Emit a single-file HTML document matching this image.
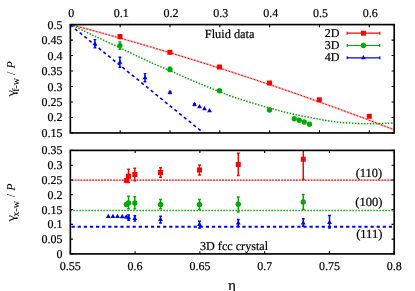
<!DOCTYPE html><html><head><meta charset="utf-8"><style>html,body{margin:0;padding:0;background:#fff}svg{display:block}text{stroke:#000;stroke-width:0.2px}g.yl text{stroke-width:0.05px}#w{will-change:transform;width:415px;height:291px;overflow:hidden}</style></head><body><div id="w"><svg width="415" height="291" viewBox="0 0 415 291" font-family="Liberation Serif, serif" font-size="12" fill="#000" text-rendering="geometricPrecision" stroke="none">
<rect width="415" height="291" fill="#fff"/>
<defs><clipPath id="c1"><rect x="70.35" y="24.6" width="323.85" height="108.35"/></clipPath><clipPath id="c2"><rect x="70.35" y="150.4" width="323.85" height="103.5"/></clipPath></defs>
<g clip-path="url(#c1)">
<polyline fill="none" stroke="#ff0000" stroke-opacity="0.3" stroke-width="1.9" points="70.35,24.50 73.59,25.36 76.83,26.22 80.07,27.09 83.30,27.96 86.54,28.83 89.78,29.71 93.02,30.59 96.26,31.48 99.50,32.37 102.73,33.27 105.97,34.16 109.21,35.07 112.45,35.97 115.69,36.88 118.93,37.80 122.17,38.71 125.40,39.63 128.64,40.56 131.88,41.49 135.12,42.42 138.36,43.36 141.60,44.30 144.84,45.25 148.07,46.20 151.31,47.15 154.55,48.11 157.79,49.07 161.03,50.03 164.27,51.00 167.50,51.97 170.74,52.95 173.98,53.93 177.22,54.91 180.46,55.90 183.70,56.89 186.94,57.89 190.17,58.89 193.41,59.89 196.65,60.90 199.89,61.91 203.13,62.93 206.37,63.95 209.61,64.97 212.84,66.00 216.08,67.03 219.32,68.06 222.56,69.10 225.80,70.15 229.04,71.19 232.28,72.24 235.51,73.30 238.75,74.36 241.99,75.42 245.23,76.49 248.47,77.56 251.71,78.63 254.94,79.71 258.18,80.79 261.42,81.88 264.66,82.97 267.90,84.06 271.14,85.16 274.38,86.26 277.61,87.37 280.85,88.48 284.09,89.59 287.33,90.71 290.57,91.83 293.81,92.95 297.04,94.08 300.28,95.21 303.52,96.35 306.76,97.49 310.00,98.64 313.24,99.79 316.48,100.94 319.71,102.09 322.95,103.25 326.19,104.42 329.43,105.59 332.67,106.76 335.91,107.94 339.15,109.12 342.38,110.30 345.62,111.49 348.86,112.68 352.10,113.87 355.34,115.07 358.58,116.28 361.82,117.48 365.05,118.70 368.29,119.91 371.53,121.13 374.77,122.35 378.01,123.58 381.25,124.81 384.48,126.05 387.72,127.28 390.96,128.53 394.20,129.77"/>
<polyline fill="none" stroke="#ff0000" stroke-width="1.0" stroke-dasharray="1.6 1.7" points="70.35,24.50 73.59,25.36 76.83,26.22 80.07,27.09 83.30,27.96 86.54,28.83 89.78,29.71 93.02,30.59 96.26,31.48 99.50,32.37 102.73,33.27 105.97,34.16 109.21,35.07 112.45,35.97 115.69,36.88 118.93,37.80 122.17,38.71 125.40,39.63 128.64,40.56 131.88,41.49 135.12,42.42 138.36,43.36 141.60,44.30 144.84,45.25 148.07,46.20 151.31,47.15 154.55,48.11 157.79,49.07 161.03,50.03 164.27,51.00 167.50,51.97 170.74,52.95 173.98,53.93 177.22,54.91 180.46,55.90 183.70,56.89 186.94,57.89 190.17,58.89 193.41,59.89 196.65,60.90 199.89,61.91 203.13,62.93 206.37,63.95 209.61,64.97 212.84,66.00 216.08,67.03 219.32,68.06 222.56,69.10 225.80,70.15 229.04,71.19 232.28,72.24 235.51,73.30 238.75,74.36 241.99,75.42 245.23,76.49 248.47,77.56 251.71,78.63 254.94,79.71 258.18,80.79 261.42,81.88 264.66,82.97 267.90,84.06 271.14,85.16 274.38,86.26 277.61,87.37 280.85,88.48 284.09,89.59 287.33,90.71 290.57,91.83 293.81,92.95 297.04,94.08 300.28,95.21 303.52,96.35 306.76,97.49 310.00,98.64 313.24,99.79 316.48,100.94 319.71,102.09 322.95,103.25 326.19,104.42 329.43,105.59 332.67,106.76 335.91,107.94 339.15,109.12 342.38,110.30 345.62,111.49 348.86,112.68 352.10,113.87 355.34,115.07 358.58,116.28 361.82,117.48 365.05,118.70 368.29,119.91 371.53,121.13 374.77,122.35 378.01,123.58 381.25,124.81 384.48,126.05 387.72,127.28 390.96,128.53 394.20,129.77"/>
<path d="M70.50 24.50 C74.58 26.45 86.75 32.30 95.00 36.20 C103.25 40.10 112.50 44.37 120.00 47.90 C127.50 51.43 134.17 54.65 140.00 57.40 C145.83 60.15 150.00 62.20 155.00 64.40 C160.00 66.60 165.33 68.58 170.00 70.60 C174.67 72.62 178.00 74.30 183.00 76.50 C188.00 78.70 193.92 81.28 200.00 83.80 C206.08 86.32 214.50 89.60 219.50 91.60 C224.50 93.60 225.96 94.35 230.00 95.80 C234.04 97.25 237.17 98.27 243.75 100.30 C250.33 102.33 261.12 105.67 269.50 108.00 C277.88 110.33 285.58 112.42 294.00 114.30 C302.42 116.18 312.33 117.97 320.00 119.30 C327.67 120.63 331.83 121.55 340.00 122.30 C348.17 123.05 359.97 123.72 369.00 123.80 C378.03 123.88 390.00 122.97 394.20 122.80" fill="none" stroke="#00a800" stroke-width="1.5" stroke-dasharray="1.5 1.5"/>
<polyline fill="none" stroke="#0000ff" stroke-width="1.6" stroke-dasharray="3.2 2.9" stroke-dashoffset="0.4" points="70.50,25.20 204.40,133.70"/>
</g>
<rect x="117.50" y="34.10" width="5" height="5" fill="#ff0000"/>
<rect x="167.40" y="49.80" width="5" height="5" fill="#ff0000"/>
<rect x="217.00" y="64.50" width="5" height="5" fill="#ff0000"/>
<rect x="267.10" y="80.50" width="5" height="5" fill="#ff0000"/>
<rect x="316.80" y="97.30" width="5" height="5" fill="#ff0000"/>
<rect x="366.80" y="113.80" width="5" height="5" fill="#ff0000"/>
<path d="M120.00 34.60 V38.60 M118.60 34.60 H121.40 M118.60 38.60 H121.40" stroke="#ff0000" stroke-width="1.45" fill="none"/>
<path d="M169.90 51.00 V53.60 M168.50 51.00 H171.30 M168.50 53.60 H171.30" stroke="#ff0000" stroke-width="1.45" fill="none"/>
<path d="M119.90 42.00 V49.20 M118.50 42.00 H121.30 M118.50 49.20 H121.30" stroke="#00a800" stroke-width="1.45" fill="none"/>
<circle cx="119.90" cy="45.60" r="2.65" fill="#00a800"/>
<path d="M169.90 67.20 V71.60 M168.50 67.20 H171.30 M168.50 71.60 H171.30" stroke="#00a800" stroke-width="1.45" fill="none"/>
<circle cx="169.90" cy="69.40" r="2.65" fill="#00a800"/>
<circle cx="219.50" cy="90.75" r="2.65" fill="#00a800"/>
<circle cx="269.50" cy="110.00" r="2.65" fill="#00a800"/>
<circle cx="294.25" cy="118.75" r="2.65" fill="#00a800"/>
<circle cx="299.25" cy="120.25" r="2.65" fill="#00a800"/>
<circle cx="304.25" cy="122.00" r="2.65" fill="#00a800"/>
<circle cx="309.50" cy="124.25" r="2.65" fill="#00a800"/>
<path d="M94.90 39.60 V47.80 M93.50 39.60 H96.30 M93.50 47.80 H96.30" stroke="#0000ff" stroke-width="1.45" fill="none"/>
<path d="M92.50 45.25 L97.30 45.25 L94.90 40.95 Z" fill="#0000ff"/>
<path d="M119.90 57.20 V67.20 M118.50 57.20 H121.30 M118.50 67.20 H121.30" stroke="#0000ff" stroke-width="1.45" fill="none"/>
<path d="M117.50 63.75 L122.30 63.75 L119.90 59.45 Z" fill="#0000ff"/>
<path d="M145.00 73.60 V81.80 M143.60 73.60 H146.40 M143.60 81.80 H146.40" stroke="#0000ff" stroke-width="1.45" fill="none"/>
<path d="M142.60 79.25 L147.40 79.25 L145.00 74.95 Z" fill="#0000ff"/>
<path d="M170.00 91.40 V93.60 M168.60 91.40 H171.40 M168.60 93.60 H171.40" stroke="#0000ff" stroke-width="1.45" fill="none"/>
<path d="M167.60 94.05 L172.40 94.05 L170.00 89.75 Z" fill="#0000ff"/>
<path d="M194.50 103.60 V105.40 M193.10 103.60 H195.90 M193.10 105.40 H195.90" stroke="#0000ff" stroke-width="1.45" fill="none"/>
<path d="M192.10 106.05 L196.90 106.05 L194.50 101.75 Z" fill="#0000ff"/>
<path d="M197.10 108.30 L201.90 108.30 L199.50 104.00 Z" fill="#0000ff"/>
<path d="M202.10 110.30 L206.90 110.30 L204.50 106.00 Z" fill="#0000ff"/>
<path d="M207.10 112.30 L211.90 112.30 L209.50 108.00 Z" fill="#0000ff"/>
<g clip-path="url(#c2)">
<path d="M70.35 180.08 H394.2" stroke="#ff0000" stroke-width="1.3" stroke-dasharray="2 0.95" stroke-dashoffset="-1.2" fill="none"/>
<path d="M70.35 210.6 H394.2" stroke="#00a800" stroke-width="1.5" stroke-dasharray="1.5 1.5" fill="none"/>
<path d="M71.6 226.75 H394.2" stroke="#0000ff" stroke-width="1.8" stroke-dasharray="3.2 2.9" fill="none"/>
<path d="M126.60 180.60 V180.60 M125.20 180.60 H128.00 M125.20 180.60 H128.00" stroke="#ff0000" stroke-width="1.45" fill="none"/>
<rect x="124.10" y="178.10" width="5" height="5" fill="#ff0000"/>
<path d="M128.50 169.25 V182.50 M127.10 169.25 H129.90 M127.10 182.50 H129.90" stroke="#ff0000" stroke-width="1.45" fill="none"/>
<rect x="126.00" y="173.75" width="5" height="5" fill="#ff0000"/>
<path d="M134.80 168.25 V180.75 M133.40 168.25 H136.20 M133.40 180.75 H136.20" stroke="#ff0000" stroke-width="1.45" fill="none"/>
<rect x="132.30" y="172.00" width="5" height="5" fill="#ff0000"/>
<path d="M160.50 167.80 V177.20 M159.10 167.80 H161.90 M159.10 177.20 H161.90" stroke="#ff0000" stroke-width="1.45" fill="none"/>
<rect x="158.00" y="170.00" width="5" height="5" fill="#ff0000"/>
<path d="M199.50 165.00 V175.00 M198.10 165.00 H200.90 M198.10 175.00 H200.90" stroke="#ff0000" stroke-width="1.45" fill="none"/>
<rect x="197.00" y="167.50" width="5" height="5" fill="#ff0000"/>
<path d="M238.25 153.25 V175.50 M236.85 153.25 H239.65 M236.85 175.50 H239.65" stroke="#ff0000" stroke-width="1.45" fill="none"/>
<rect x="235.75" y="162.00" width="5" height="5" fill="#ff0000"/>
<path d="M303.25 140.00 V179.50 M301.85 140.00 H304.65 M301.85 179.50 H304.65" stroke="#ff0000" stroke-width="1.45" fill="none"/>
<rect x="300.75" y="156.75" width="5" height="5" fill="#ff0000"/>
<path d="M126.40 204.50 V204.50 M125.00 204.50 H127.80 M125.00 204.50 H127.80" stroke="#00a800" stroke-width="1.45" fill="none"/>
<circle cx="126.40" cy="204.50" r="2.65" fill="#00a800"/>
<path d="M128.50 196.25 V208.75 M127.10 196.25 H129.90 M127.10 208.75 H129.90" stroke="#00a800" stroke-width="1.45" fill="none"/>
<circle cx="128.50" cy="203.00" r="2.65" fill="#00a800"/>
<path d="M134.80 196.75 V208.75 M133.40 196.75 H136.20 M133.40 208.75 H136.20" stroke="#00a800" stroke-width="1.45" fill="none"/>
<circle cx="134.80" cy="203.00" r="2.65" fill="#00a800"/>
<path d="M160.50 199.50 V208.75 M159.10 199.50 H161.90 M159.10 208.75 H161.90" stroke="#00a800" stroke-width="1.45" fill="none"/>
<circle cx="160.50" cy="204.50" r="2.65" fill="#00a800"/>
<path d="M199.50 199.50 V209.50 M198.10 199.50 H200.90 M198.10 209.50 H200.90" stroke="#00a800" stroke-width="1.45" fill="none"/>
<circle cx="199.50" cy="204.50" r="2.65" fill="#00a800"/>
<path d="M238.25 197.00 V212.00 M236.85 197.00 H239.65 M236.85 212.00 H239.65" stroke="#00a800" stroke-width="1.45" fill="none"/>
<circle cx="238.25" cy="204.25" r="2.65" fill="#00a800"/>
<path d="M303.25 194.50 V209.50 M301.85 194.50 H304.65 M301.85 209.50 H304.65" stroke="#00a800" stroke-width="1.45" fill="none"/>
<circle cx="303.25" cy="202.00" r="2.65" fill="#00a800"/>
<path d="M105.90 217.95 L110.70 217.95 L108.30 213.65 Z" fill="#0000ff"/>
<path d="M110.50 217.95 L115.30 217.95 L112.90 213.65 Z" fill="#0000ff"/>
<path d="M115.10 217.95 L119.90 217.95 L117.50 213.65 Z" fill="#0000ff"/>
<path d="M119.80 218.15 L124.60 218.15 L122.20 213.85 Z" fill="#0000ff"/>
<path d="M126.20 217.00 V217.00 M124.80 217.00 H127.60 M124.80 217.00 H127.60" stroke="#0000ff" stroke-width="1.45" fill="none"/>
<path d="M123.80 218.55 L128.60 218.55 L126.20 214.25 Z" fill="#0000ff"/>
<path d="M128.60 214.90 V220.30 M127.20 214.90 H130.00 M127.20 220.30 H130.00" stroke="#0000ff" stroke-width="1.45" fill="none"/>
<path d="M126.20 219.15 L131.00 219.15 L128.60 214.85 Z" fill="#0000ff"/>
<path d="M134.80 215.70 V221.10 M133.40 215.70 H136.20 M133.40 221.10 H136.20" stroke="#0000ff" stroke-width="1.45" fill="none"/>
<path d="M132.40 219.95 L137.20 219.95 L134.80 215.65 Z" fill="#0000ff"/>
<path d="M160.50 216.25 V223.00 M159.10 216.25 H161.90 M159.10 223.00 H161.90" stroke="#0000ff" stroke-width="1.45" fill="none"/>
<path d="M158.10 221.05 L162.90 221.05 L160.50 216.75 Z" fill="#0000ff"/>
<path d="M199.50 221.25 V228.00 M198.10 221.25 H200.90 M198.10 228.00 H200.90" stroke="#0000ff" stroke-width="1.45" fill="none"/>
<path d="M197.10 226.05 L201.90 226.05 L199.50 221.75 Z" fill="#0000ff"/>
<path d="M238.25 219.50 V226.25 M236.85 219.50 H239.65 M236.85 226.25 H239.65" stroke="#0000ff" stroke-width="1.45" fill="none"/>
<path d="M235.85 224.55 L240.65 224.55 L238.25 220.25 Z" fill="#0000ff"/>
<path d="M303.25 218.75 V226.25 M301.85 218.75 H304.65 M301.85 226.25 H304.65" stroke="#0000ff" stroke-width="1.45" fill="none"/>
<path d="M300.85 224.55 L305.65 224.55 L303.25 220.25 Z" fill="#0000ff"/>
<path d="M329.50 215.50 V228.00 M328.10 215.50 H330.90 M328.10 228.00 H330.90" stroke="#0000ff" stroke-width="1.45" fill="none"/>
<path d="M327.10 224.05 L331.90 224.05 L329.50 219.75 Z" fill="#0000ff"/>
</g>
<rect x="70.35" y="24.6" width="323.85" height="108.35" fill="none" stroke="#000" stroke-width="1.65"/>
<rect x="70.35" y="150.4" width="323.85" height="103.5" fill="none" stroke="#000" stroke-width="1.65"/>
<text x="71.35" y="16.5" text-anchor="middle">0</text>
<text x="121.17" y="16.5" text-anchor="middle">0.1</text>
<text x="171.00" y="16.5" text-anchor="middle">0.2</text>
<text x="220.82" y="16.5" text-anchor="middle">0.3</text>
<text x="270.64" y="16.5" text-anchor="middle">0.4</text>
<text x="320.47" y="16.5" text-anchor="middle">0.5</text>
<text x="370.29" y="16.5" text-anchor="middle">0.6</text>
<text x="62.6" y="28.60" text-anchor="end">0.5</text>
<text x="62.6" y="44.08" text-anchor="end">0.45</text>
<text x="62.6" y="59.56" text-anchor="end">0.4</text>
<text x="62.6" y="75.04" text-anchor="end">0.35</text>
<text x="62.6" y="90.51" text-anchor="end">0.3</text>
<text x="62.6" y="105.99" text-anchor="end">0.25</text>
<text x="62.6" y="121.47" text-anchor="end">0.2</text>
<text x="62.6" y="136.95" text-anchor="end">0.15</text>
<text x="70.35" y="270.0" text-anchor="middle">0.55</text>
<text x="135.12" y="270.0" text-anchor="middle">0.6</text>
<text x="199.89" y="270.0" text-anchor="middle">0.65</text>
<text x="264.66" y="270.0" text-anchor="middle">0.7</text>
<text x="329.43" y="270.0" text-anchor="middle">0.75</text>
<text x="394.20" y="270.0" text-anchor="middle">0.8</text>
<text x="62.6" y="257.90" text-anchor="end">0</text>
<text x="62.6" y="243.11" text-anchor="end">0.05</text>
<text x="62.6" y="228.33" text-anchor="end">0.1</text>
<text x="62.6" y="213.54" text-anchor="end">0.15</text>
<text x="62.6" y="198.76" text-anchor="end">0.2</text>
<text x="62.6" y="183.97" text-anchor="end">0.25</text>
<text x="62.6" y="169.19" text-anchor="end">0.3</text>
<text x="62.6" y="154.40" text-anchor="end">0.35</text>
<path d="M70.35 24.6 v2.6 M70.35 132.95 v-2.6 M120.17 24.6 v2.6 M120.17 132.95 v-2.6 M170.00 24.6 v2.6 M170.00 132.95 v-2.6 M219.82 24.6 v2.6 M219.82 132.95 v-2.6 M269.64 24.6 v2.6 M269.64 132.95 v-2.6 M319.47 24.6 v2.6 M319.47 132.95 v-2.6 M369.29 24.6 v2.6 M369.29 132.95 v-2.6 M70.35 24.60 h2.6 M394.2 24.60 h-2.6 M70.35 40.08 h2.6 M394.2 40.08 h-2.6 M70.35 55.56 h2.6 M394.2 55.56 h-2.6 M70.35 71.04 h2.6 M394.2 71.04 h-2.6 M70.35 86.51 h2.6 M394.2 86.51 h-2.6 M70.35 101.99 h2.6 M394.2 101.99 h-2.6 M70.35 117.47 h2.6 M394.2 117.47 h-2.6 M70.35 132.95 h2.6 M394.2 132.95 h-2.6 M70.35 150.4 v2.6 M70.35 253.9 v-2.6 M135.12 150.4 v2.6 M135.12 253.9 v-2.6 M199.89 150.4 v2.6 M199.89 253.9 v-2.6 M264.66 150.4 v2.6 M264.66 253.9 v-2.6 M329.43 150.4 v2.6 M329.43 253.9 v-2.6 M394.20 150.4 v2.6 M394.20 253.9 v-2.6 M70.35 253.90 h2.6 M394.2 253.90 h-2.6 M70.35 239.11 h2.6 M394.2 239.11 h-2.6 M70.35 224.33 h2.6 M394.2 224.33 h-2.6 M70.35 209.54 h2.6 M394.2 209.54 h-2.6 M70.35 194.76 h2.6 M394.2 194.76 h-2.6 M70.35 179.97 h2.6 M394.2 179.97 h-2.6 M70.35 165.19 h2.6 M394.2 165.19 h-2.6 M70.35 150.40 h2.6 M394.2 150.40 h-2.6" stroke="#000" stroke-width="1.1" fill="none"/>
<text x="204.8" y="38.1" font-size="12.35">Fluid data</text>
<text x="200" y="249.8" font-size="12.15">3D fcc crystal</text>
<text x="382.3" y="176.6" font-size="12.5" text-anchor="end">(110)</text>
<text x="382.3" y="206.1" font-size="12.5" text-anchor="end">(100)</text>
<text x="382.3" y="237.6" font-size="12.5" text-anchor="end">(111)</text>
<text x="232" y="289.8" font-size="14.6" text-anchor="middle">η</text>
<text x="339.3" y="36.80" text-anchor="end">2D</text>
<path d="M347.2 33.20 H379.8 M347.2 31.70 v3 M379.8 31.70 v3" stroke="#ff0000" stroke-width="1.2" fill="none"/>
<rect x="360.90" y="30.70" width="5" height="5" fill="#ff0000"/>
<text x="339.3" y="49.10" text-anchor="end">3D</text>
<path d="M347.2 45.50 H379.8 M347.2 44.00 v3 M379.8 44.00 v3" stroke="#00a800" stroke-width="1.2" fill="none"/>
<circle cx="363.40" cy="45.50" r="2.65" fill="#00a800"/>
<text x="339.3" y="61.40" text-anchor="end">4D</text>
<path d="M347.2 57.80 H379.8 M347.2 56.30 v3 M379.8 56.30 v3" stroke="#0000ff" stroke-width="1.2" fill="none"/>
<path d="M361.00 59.35 L365.80 59.35 L363.40 55.05 Z" fill="#0000ff"/>
<g class="yl" transform="translate(14.5,97.2) rotate(-90)"><text transform="scale(1.22,1.03)" x="0.5" y="0">γ</text><text x="5.4" y="4.2" font-size="10">f-w</text><text x="22.2" y="0">/</text><text x="28.8" y="0" font-style="italic">P</text></g>
<g class="yl" transform="translate(14.5,222) rotate(-90)"><text transform="scale(1.22,1.03)" x="0.5" y="0">γ</text><text x="5.4" y="4.2" font-size="10">x-w</text><text x="24.7" y="0">/</text><text x="31.2" y="0" font-style="italic">P</text></g>
</svg></div></body></html>
